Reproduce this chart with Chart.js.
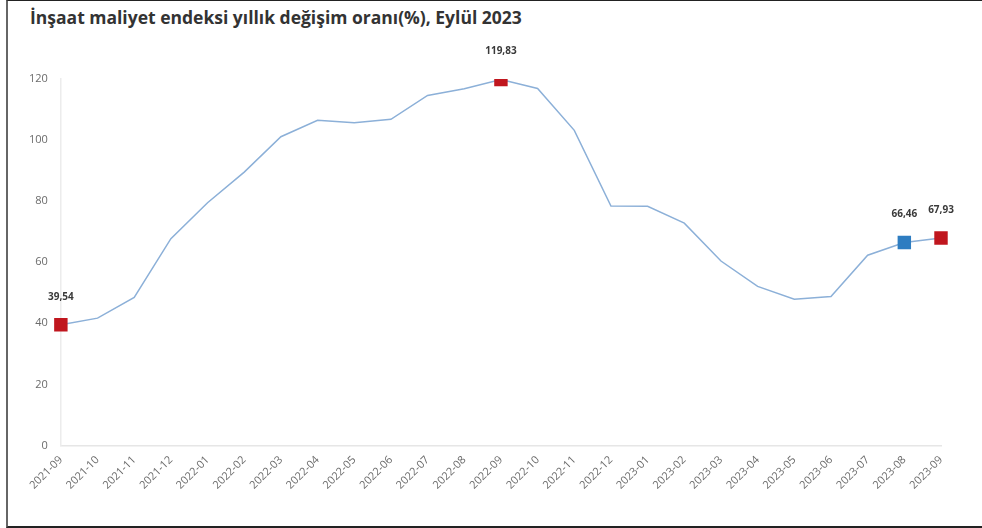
<!DOCTYPE html>
<html>
<head>
<meta charset="utf-8">
<script src="https://cdn.jsdelivr.net/npm/chart.js@4.4.0/dist/chart.umd.min.js"></script>
<style>
  html, body { margin: 0; padding: 0; background: #fff; }
  .frame {
    position: absolute;
    left: 6px;
    top: 0;
    width: 976px;
    border-top: 1px solid #222;
    border-left: 2px solid #666;
    border-bottom: 2px solid #222;
    box-sizing: border-box;
    height: 528px;
  }
  .title {
    position: absolute;
    left: 22px;
    top: 4px;
    font: bold 17.5px 'Open Sans', sans-serif;
    color: #333;
    white-space: nowrap;
  }
  .jsGraphContainer { position: absolute; left: 0; top: 1px; width: 976px; height: 522px; }
</style>
</head>
<body>
<div class="frame">
  <div class="title">İnşaat maliyet endeksi yıllık değişim oranı(%), Eylül 2023</div>
  <div class="jsGraphContainer"><canvas id="graph"></canvas></div>
</div>
<script>
const months = ["2021-09", "2021-10", "2021-11", "2021-12", "2022-01", "2022-02", "2022-03", "2022-04", "2022-05",
  "2022-06", "2022-07", "2022-08", "2022-09", "2022-10", "2022-11", "2022-12", "2023-01", "2023-02", "2023-03",
  "2023-04", "2023-05", "2023-06", "2023-07", "2023-08", "2023-09"];

const yearlyChange = [39.54, 41.7, 48.5, 67.7, 79.5, 89.5, 101.1, 106.5, 105.7, 106.8, 114.6, 116.8, 119.83,
  116.9, 103.2, 78.4, 78.3, 72.8, 60.4, 52.1, 47.9, 48.8, 62.3, 66.46, 67.93];

const redPoints = [0, 12, 24];
const bluePoints = [23];

const RED = "rgb(192, 22, 30)";
const BLUE = "rgb(46, 125, 193)";

const pointColor = (ctx) => {
  if (bluePoints.includes(ctx.dataIndex)) return BLUE;
  return RED;
};
const pointSize = (ctx) => {
  return redPoints.includes(ctx.dataIndex) || bluePoints.includes(ctx.dataIndex) ? 9.5 : 0;
};

// values written above the highlighted points
const pointLabels = {
  id: "pointLabels",
  afterDatasetsDraw(chart) {
    const ctx = chart.ctx;
    const meta = chart.getDatasetMeta(0);
    ctx.save();
    ctx.font = "bold 10px 'Open Sans', sans-serif";
    ctx.fillStyle = "#3a3a3a";
    ctx.textAlign = "center";
    ctx.textBaseline = "middle";
    redPoints.concat(bluePoints).forEach((i) => {
      const p = meta.data[i];
      const text = yearlyChange[i].toFixed(2).replace(".", ",");
      ctx.fillText(text, p.x, p.y - 28);
    });
    ctx.restore();
  },
};

let chart_element = document.getElementById("graph").getContext("2d");

Chart.defaults.font.family = "'Open Sans', sans-serif";
Chart.defaults.color = "#6b6b6b";

new Chart(chart_element, {
  type: "line",
  data: {
    labels: months,
    datasets: [
      {
        data: yearlyChange,
        borderColor: "rgb(140, 176, 216)",
        borderWidth: 1.5,
        tension: 0,
        pointStyle: "rect",
        pointRadius: pointSize,
        pointHoverRadius: pointSize,
        pointBackgroundColor: pointColor,
        pointBorderColor: pointColor,
        pointBorderWidth: 0,
        clip: { left: 20, right: 20, top: 0, bottom: 20 },
      },
    ],
  },
  plugins: [pointLabels],
  options: {
    animation: false,
    responsive: true,
    maintainAspectRatio: false,
    layout: {
      padding: { left: 8, right: 43, top: 77, bottom: 24 },
    },
    plugins: {
      legend: { display: false },
      tooltip: { enabled: false },
    },
    scales: {
      x: {
        offset: false,
        grid: { display: false, drawTicks: false },
        border: { color: "#e6e6e6", width: 1.5 },
        ticks: {
          minRotation: 45,
          maxRotation: 45,
          autoSkip: false,
          padding: 8,
          font: { size: 11 },
        },
      },
      y: {
        min: 0,
        max: 120,
        grid: { display: false, drawTicks: false },
        border: { color: "#ececec", width: 1.5 },
        ticks: {
          stepSize: 20,
          padding: 13,
          font: { size: 11 },
        },
      },
    },
  },
});
</script>
</body>
</html>
